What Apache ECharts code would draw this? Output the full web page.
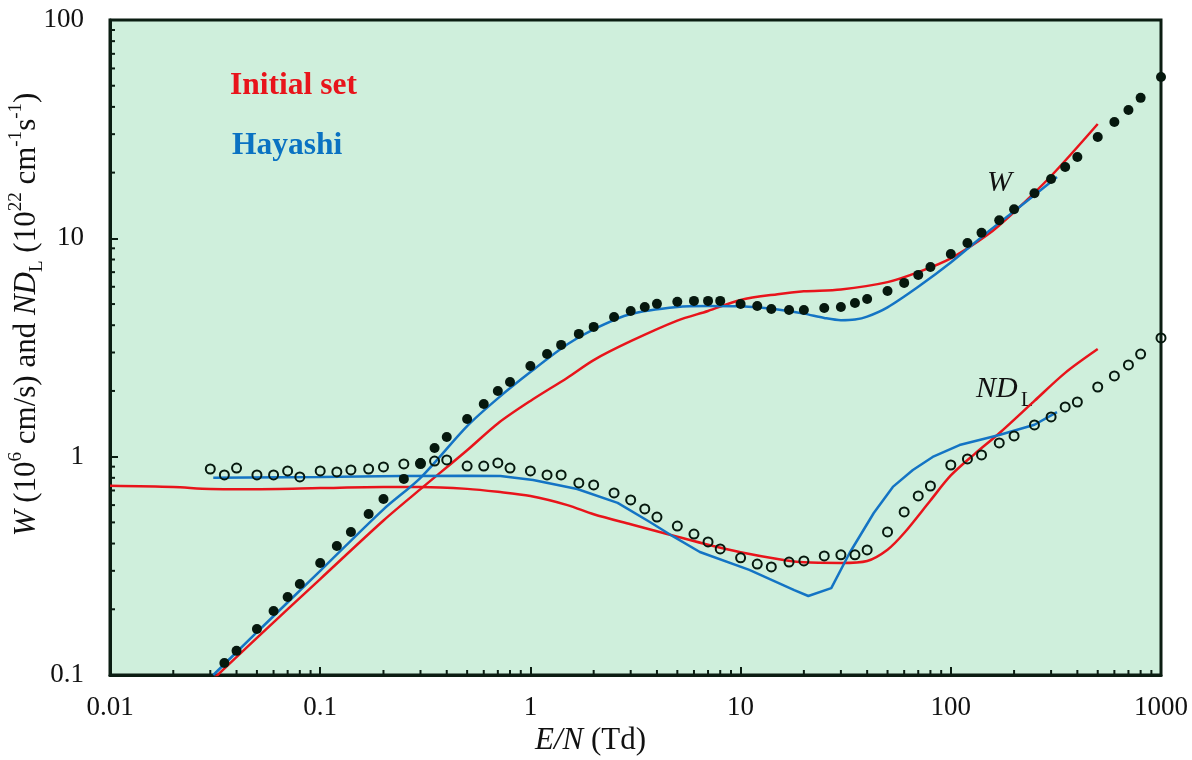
<!DOCTYPE html>
<html>
<head>
<meta charset="utf-8">
<script src="https://cdn.jsdelivr.net/npm/echarts@6/dist/echarts.min.js"></script>
<style>
  html, body { margin: 0; padding: 0; background: #fff; }
  #chart { width: 1192px; height: 760px; }
</style>
</head>
<body>
<div id="chart"></div>
<script>
const axisColor = '#0b1d12'
const textColor = '#111111'
const serif = '"Liberation Serif", "Times New Roman", serif'

// measured drift velocity W (filled dots)
const wExpX = [0.035, 0.04, 0.05, 0.06, 0.07, 0.08, 0.1, 0.12, 0.14, 0.17, 0.2, 0.25, 0.3, 0.35, 0.4, 0.5, 0.6, 0.7, 0.8, 1, 1.2, 1.4, 1.7, 2, 2.5, 3, 3.5, 4, 5, 6, 7, 8, 10, 12, 14, 17, 20, 25, 30, 35, 40, 50, 60, 70, 80, 100, 120, 140, 170, 200, 250, 300, 350, 400, 500, 600, 700, 800, 1000]
const wExpY = [0.1135, 0.129, 0.1625, 0.1965, 0.2277, 0.261, 0.326, 0.39, 0.452, 0.546, 0.64, 0.791, 0.936, 1.096, 1.231, 1.489, 1.743, 2.0, 2.198, 2.604, 2.953, 3.25, 3.65, 3.93, 4.36, 4.65, 4.85, 5.01, 5.12, 5.17, 5.17, 5.17, 5.0, 4.9, 4.75, 4.7, 4.7, 4.8, 4.85, 5.06, 5.27, 5.74, 6.25, 6.8, 7.39, 8.48, 9.52, 10.6, 12.1, 13.6, 16.1, 18.7, 21.2, 23.6, 29.1, 34.1, 38.7, 44.0, 54.8]

// measured ND_L (open circles)
const ndExpX = [0.03, 0.035, 0.04, 0.05, 0.06, 0.07, 0.08, 0.1, 0.12, 0.14, 0.17, 0.2, 0.25, 0.3, 0.35, 0.4, 0.5, 0.6, 0.7, 0.8, 1, 1.2, 1.4, 1.7, 2, 2.5, 3, 3.5, 4, 5, 6, 7, 8, 10, 12, 14, 17, 20, 25, 30, 35, 40, 50, 60, 70, 80, 100, 120, 140, 170, 200, 250, 300, 350, 400, 500, 600, 700, 800, 1000]
const ndExpY = [0.878, 0.825, 0.887, 0.825, 0.825, 0.86, 0.808, 0.86, 0.851, 0.869, 0.878, 0.897, 0.926, 0.93, 0.955, 0.966, 0.906, 0.906, 0.936, 0.887, 0.86, 0.825, 0.825, 0.758, 0.742, 0.682, 0.634, 0.576, 0.529, 0.481, 0.442, 0.407, 0.378, 0.344, 0.322, 0.3125, 0.329, 0.333, 0.351, 0.355, 0.355, 0.374, 0.452, 0.558, 0.661, 0.734, 0.916, 0.976, 1.018, 1.156, 1.245, 1.397, 1.52, 1.69, 1.78, 2.085, 2.343, 2.63, 2.95, 3.5]

// Initial set (red)
const initWX = [0.03, 0.05, 0.1, 0.2, 0.3, 0.5, 0.7, 1, 1.5, 2, 3, 5, 7, 10, 15, 20, 30, 50, 70, 100, 150, 200, 300, 500]
const initWY = [0.093, 0.148, 0.275, 0.51, 0.71, 1.07, 1.42, 1.8, 2.3, 2.77, 3.38, 4.2, 4.65, 5.22, 5.55, 5.72, 5.83, 6.3, 7.0, 8.1, 10.4, 13.2, 19.3, 33.4]
const initNdX = [0.01, 0.02, 0.03, 0.05, 0.1, 0.2, 0.3, 0.5, 0.7, 1, 1.5, 2, 3, 5, 7, 10, 15, 20, 30, 40, 50, 60, 80, 100, 130, 170, 250, 350, 500]
const initNdY = [0.735, 0.726, 0.712, 0.71, 0.718, 0.726, 0.726, 0.712, 0.69, 0.66, 0.6, 0.545, 0.49, 0.43, 0.395, 0.365, 0.34, 0.328, 0.326, 0.333, 0.375, 0.447, 0.63, 0.82, 1.03, 1.28, 1.8, 2.42, 3.11]

// Hayashi (blue)
const hayWX = [0.031, 0.05, 0.1, 0.2, 0.3, 0.5, 0.7, 1, 1.5, 2, 3, 5, 7, 10, 15, 20, 25, 30, 35, 40, 50, 70, 100, 150, 200, 320]
const hayWY = [0.1, 0.157, 0.3, 0.574, 0.8, 1.38, 1.85, 2.44, 3.27, 3.83, 4.5, 4.85, 4.9, 4.88, 4.72, 4.52, 4.32, 4.22, 4.25, 4.38, 4.83, 6.0, 7.75, 10.7, 13.3, 19.1]
const hayNdX = [0.031, 0.1, 0.24, 0.5, 0.72, 1.03, 1.67, 2.6, 3.7, 4.8, 6.4, 11, 18, 21, 27, 33, 43, 53, 66, 82, 110, 170, 250, 320]
const hayNdY = [0.8, 0.808, 0.816, 0.818, 0.816, 0.782, 0.711, 0.614, 0.502, 0.43, 0.366, 0.303, 0.245, 0.23, 0.25, 0.362, 0.552, 0.727, 0.869, 0.997, 1.13, 1.256, 1.4, 1.6]

// axes
const xMin = 0.01, xMax = 1000
const yMin = 0.1, yMax = 100
const xTickLabels = ['0.01', '0.1', '1', '10', '100', '1000']
const yTickLabels = ['0.1', '1', '10', '100']
const minorSteps = [2, 3, 4, 5, 6, 7, 8, 9]
const xDecades = [0.01, 0.1, 1, 10, 100]
const yDecades = [0.1, 1, 10]

const zip = (xs, ys) => xs.map((x, i) => [x, ys[i]])
const xMinor = []
xDecades.forEach(d => minorSteps.forEach(s => xMinor.push([+(d * s).toPrecision(3), yMin])))
const yMinor = []
yDecades.forEach(d => minorSteps.forEach(s => yMinor.push([xMin, +(d * s).toPrecision(3)])))

const chart = echarts.init(document.getElementById('chart'))

const tickSeries = (data, horizontal) => ({
  type: 'custom',
  data: data,
  clip: false,
  silent: true,
  z: 5,
  renderItem: (params, api) => {
    const p = api.coord([api.value(0), api.value(1)])
    return {
      type: 'line',
      shape: horizontal
        ? { x1: p[0], y1: p[1], x2: p[0] + 5, y2: p[1] }
        : { x1: p[0], y1: p[1], x2: p[0], y2: p[1] - 5 },
      style: { stroke: axisColor, lineWidth: 2 },
    }
  },
})

const option = {
  animation: false,
  textStyle: { fontFamily: serif },
  grid: {
    left: 110,
    right: 31,
    top: 20,
    bottom: 85,
    outerBoundsMode: 'none',
    containLabel: false,
    show: true,
    backgroundColor: '#cfefdc',
    borderColor: axisColor,
    borderWidth: 3,
  },
  xAxis: {
    type: 'log',
    logBase: 10,
    min: xMin,
    max: xMax,
    name: '{i|E/N} (Td)',
    nameLocation: 'middle',
    nameGap: 50,
    nameMoveOverlap: false,
    nameTextStyle: {
      fontFamily: serif,
      fontSize: 31,
      color: textColor,
      padding: [0, 90, 0, 0],
      rich: {
        i: { fontFamily: serif, fontStyle: 'italic', fontSize: 31, color: textColor },
      },
    },
    axisLine: { show: true, lineStyle: { color: axisColor, width: 3 } },
    axisTick: { show: true, inside: true, length: 8, lineStyle: { color: axisColor, width: 2 } },
    minorTick: { show: false },
    splitLine: { show: false },
    axisLabel: {
      fontFamily: serif,
      fontSize: 27,
      color: textColor,
      margin: 19,
      formatter: v => xTickLabels[Math.round(Math.log10(v)) + 2],
    },
  },
  yAxis: {
    type: 'log',
    logBase: 10,
    min: yMin,
    max: yMax,
    name: '{i|W} (10{sup|6} cm/s) and {i|ND}{sub|L} (10{sup|22} cm{sup|-1}s{sup|-1})',
    nameLocation: 'middle',
    nameRotate: 90,
    nameGap: 63,
    nameMoveOverlap: false,
    nameTextStyle: {
      fontFamily: serif,
      fontSize: 31,
      lineHeight: 40,
      color: textColor,
      padding: [0, 0, 0, 66],
      rich: {
        i: { fontFamily: serif, fontStyle: 'italic', fontSize: 31, lineHeight: 40, color: textColor },
        sup: { fontFamily: serif, fontSize: 19, lineHeight: 26, verticalAlign: 'top', color: textColor },
        sub: { fontFamily: serif, fontSize: 19, lineHeight: 22, verticalAlign: 'bottom', color: textColor },
      },
    },
    axisLine: { show: true, lineStyle: { color: axisColor, width: 3 } },
    axisTick: { show: true, inside: true, length: 8, lineStyle: { color: axisColor, width: 2 } },
    minorTick: { show: false },
    splitLine: { show: false },
    axisLabel: {
      fontFamily: serif,
      fontSize: 27,
      color: textColor,
      margin: 26,
      formatter: v => yTickLabels[Math.round(Math.log10(v)) + 1],
    },
  },
  graphic: [
    { type: 'text', x: 230, y: 86, style: { text: 'Initial set', font: 'bold 31.5px ' + serif, fill: '#e8141b', verticalAlign: 'middle' } },
    { type: 'text', x: 232, y: 146, style: { text: 'Hayashi', font: 'bold 31.5px ' + serif, fill: '#0a72c2', verticalAlign: 'middle' } },
    { type: 'text', x: 987, y: 183, style: { text: 'W', font: 'italic 30px ' + serif, fill: textColor, verticalAlign: 'middle' } },
    { type: 'text', x: 976, y: 389, style: { text: 'ND', font: 'italic 30px ' + serif, fill: textColor, verticalAlign: 'middle' } },
    { type: 'text', x: 1021, y: 401, style: { text: 'L', font: '20px ' + serif, fill: textColor, verticalAlign: 'middle' } },
  ],
  series: [
    {
      name: 'Initial set W',
      type: 'line',
      data: zip(initWX, initWY),
      smooth: 0.3,
      showSymbol: false,
      lineStyle: { color: '#e8141b', width: 2.5 },
      z: 2,
    },
    {
      name: 'Initial set NDL',
      type: 'line',
      data: zip(initNdX, initNdY),
      smooth: 0.3,
      showSymbol: false,
      lineStyle: { color: '#e8141b', width: 2.5 },
      z: 2,
    },
    {
      name: 'Hayashi W',
      type: 'line',
      data: zip(hayWX, hayWY),
      smooth: 0.3,
      showSymbol: false,
      lineStyle: { color: '#1474c4', width: 2.5 },
      z: 3,
    },
    {
      name: 'Hayashi NDL',
      type: 'line',
      data: zip(hayNdX, hayNdY),
      smooth: false,
      showSymbol: false,
      lineStyle: { color: '#1474c4', width: 2.5 },
      z: 3,
    },
    {
      name: 'W',
      type: 'scatter',
      data: zip(wExpX, wExpY),
      symbol: 'circle',
      symbolSize: 10,
      itemStyle: { color: '#06180e', opacity: 1 },
      z: 4,
    },
    {
      name: 'NDL',
      type: 'scatter',
      data: zip(ndExpX, ndExpY),
      symbol: 'circle',
      symbolSize: 9,
      itemStyle: { color: 'rgba(0,0,0,0)', borderColor: '#06180e', borderWidth: 2, opacity: 1 },
      z: 4,
    },
    tickSeries(xMinor, false),
    tickSeries(yMinor, true),
  ],
}

chart.setOption(option)
</script>
</body>
</html>
